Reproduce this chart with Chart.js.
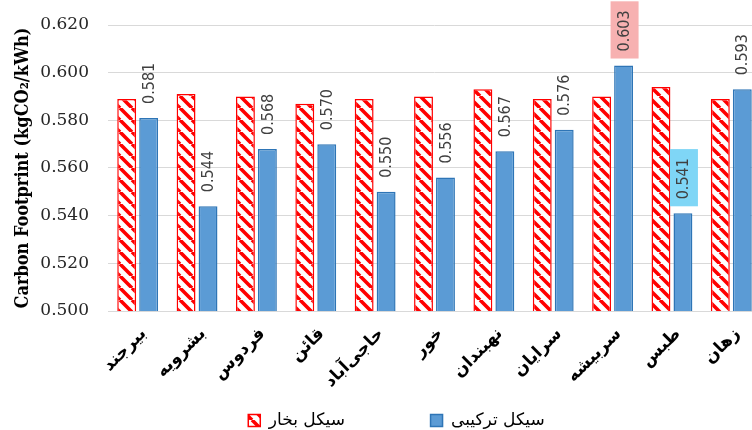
<!DOCTYPE html>
<html>
<head>
<meta charset="utf-8">
<script src="https://cdn.jsdelivr.net/npm/chart.js@4.4.0/dist/chart.umd.min.js"></script>
<style>
  body { margin: 0; background: #fff; overflow: hidden; }
  #wrap { width: 752px; height: 430px; overflow: hidden; }
  #box { width: 770px; height: 430px; }
</style>
</head>
<body>
<div id="wrap"><div id="box"><canvas id="myChart"></canvas></div></div>
<script>
// data ..........................
var cities = ["بیرجند", "بشرویه", "فردوس", "قائن", "حاجی‌آباد", "خور", "نهبندان", "سرایان", "سربیشه", "طبس", "زهان"];
var steamCycle = [0.589, 0.591, 0.590, 0.587, 0.589, 0.590, 0.593, 0.589, 0.590, 0.594, 0.589];
var combinedCycle = [0.581, 0.544, 0.568, 0.570, 0.550, 0.556, 0.567, 0.576, 0.603, 0.541, 0.593];
var seriesNames = ["سیکل بخار", "سیکل ترکیبی"];
var yTicks = [0.500, 0.520, 0.540, 0.560, 0.580, 0.600, 0.620];

// red hatch fill
var mainCtx = document.getElementById("myChart").getContext("2d");
function makeHatch() {
  var s = 12;
  var c = document.createElement("canvas");
  c.width = s; c.height = s;
  var g = c.getContext("2d");
  g.fillStyle = "#ffffff";
  g.fillRect(0, 0, s, s);
  g.strokeStyle = "#FF0000";
  g.lineWidth = 3.6;
  g.beginPath();
  [-s, 0, s].forEach(function (k) {
    g.moveTo(k, 0);
    g.lineTo(k + s, s);
  });
  g.stroke();
  return mainCtx.createPattern(c, "repeat");
}
var hatchFill = makeHatch();

// value labels over the blue bars (two of them boxed)
var boxColors = { 8: "#F7B1B1", 9: "#7FD6F6" };
var blueLabels = {
  id: "blueLabels",
  afterDatasetsDraw: function (chart) {
    var ctx = chart.ctx;
    var meta = chart.getDatasetMeta(1);
    ctx.save();
    ctx.font = '16px "DejaVu Sans Condensed", sans-serif';
    meta.data.forEach(function (bar, i) {
      var txt = combinedCycle[i].toFixed(3);
      var w = ctx.measureText(txt).width;
      ctx.save();
      ctx.translate(bar.x + 1, bar.y - 14);
      ctx.rotate(-Math.PI / 2);
      if (boxColors[i]) {
        ctx.fillStyle = boxColors[i];
        ctx.fillRect(-7, -14, w + 16, 28);
      }
      ctx.fillStyle = "#404040";
      ctx.textAlign = "left";
      ctx.textBaseline = "middle";
      ctx.fillText(txt, 0, 0);
      ctx.restore();
    });
    ctx.restore();
  }
};

// shift the legend row a little, like the original
var legendNudge = {
  id: "legendNudge",
  afterLayout: function (chart) {
    var lg = chart.legend;
    lg.left += 14; lg.right += 14;
    lg.top += 9; lg.bottom += 9;
  }
};

new Chart("myChart", {
  type: "bar",
  data: {
    labels: cities,
    datasets: [{
      label: seriesNames[0],
      data: steamCycle,
      backgroundColor: hatchFill,
      borderColor: "#FF0000",
      borderWidth: 1.5
    }, {
      label: seriesNames[1],
      data: combinedCycle,
      backgroundColor: "#5B9BD5",
      borderColor: "#2E75B6",
      borderWidth: 1.5
    }]
  },
  options: {
    responsive: true,
    maintainAspectRatio: false,
    animation: false,
    layout: { padding: { top: 25, right: 9, left: 4, bottom: 0 } },
    datasets: { bar: { categoryPercentage: 0.74, barPercentage: 0.86 } },
    plugins: {
      tooltip: { enabled: false },
      legend: {
        position: "bottom",
        labels: {
          boxWidth: 12,
          boxHeight: 12,
          padding: 10,
          color: "#000",
          font: { family: "DejaVu Sans", size: 17 },
          generateLabels: function (chart) {
            var items = Chart.defaults.plugins.legend.labels.generateLabels(chart);
            // wide gap after the first entry
            items[0].text = items[0].text + "              ";
            return items;
          }
        }
      }
    },
    scales: {
      x: {
        grid: { display: false },
        border: { color: "#D9D9D9" },
        ticks: {
          minRotation: 45,
          maxRotation: 45,
          color: "#000",
          padding: 5,
          labelOffset: 6,
          font: { family: "DejaVu Sans", size: 17, weight: "bold" }
        },
        afterFit: function (s) { s.height = 82; }
      },
      y: {
        min: yTicks[0],
        max: yTicks[yTicks.length - 1],
        afterBuildTicks: function (s) {
          s.ticks = yTicks.map(function (v) { return { value: v }; });
        },
        ticks: {
          color: "#262626",
          padding: 0,
          font: { family: "DejaVu Serif", size: 17 },
          callback: function (v) { return Number(v).toFixed(3); }
        },
        grid: { color: "#D9D9D9", drawTicks: true, tickLength: 19, tickColor: "rgba(0,0,0,0)" },
        border: { display: false },
        title: {
          display: true,
          text: "Carbon Footprint (kgCO₂/kWh)",
          color: "#000",
          padding: { top: 9, bottom: 0 },
          font: { family: "DejaVu Serif Condensed", size: 18, weight: "bold" }
        },
        afterFit: function (s) { s.width = 104; }
      }
    }
  },
  plugins: [blueLabels, legendNudge]
});
</script>
</body>
</html>
